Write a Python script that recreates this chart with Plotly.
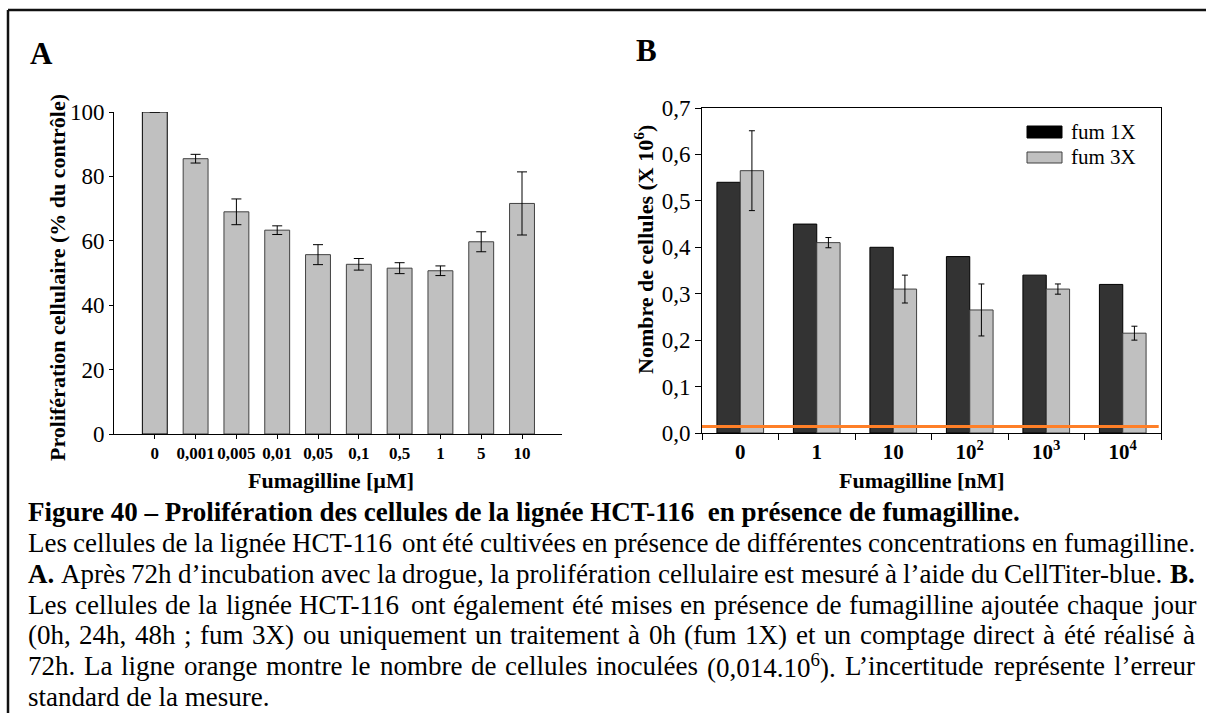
import re
import plotly.graph_objects as go
from plotly.subplots import make_subplots

W, H = 1206, 713
SERIF = "Liberation Serif"

# panel A : proliferation (% du controle)
doses_a = ["0", "0,001", "0,005", "0,01", "0,05", "0,1", "0,5", "1", "5", "10"]
prolif = [100, 85.5, 69.0, 63.3, 55.7, 52.7, 51.5, 50.7, 59.7, 71.6]
prolif_err = [0, 1.35, 4.0, 1.35, 3.1, 1.8, 1.7, 1.5, 3.1, 9.8]

# panel B : nombre de cellules (x 10^6)
doses_b = ["0", "1", "10", "10<sup>2</sup>", "10<sup>3</sup>", "10<sup>4</sup>"]
fum1x = [0.54, 0.45, 0.40, 0.38, 0.34, 0.32]
fum3x = [0.565, 0.41, 0.31, 0.265, 0.31, 0.215]
fum3x_err = [0.086, 0.011, 0.03, 0.056, 0.011, 0.015]
inoculum = 0.014

caption_title = "Figure 40 – Prolifération des cellules de la lignée HCT-116  en présence de fumagilline."
caption_lines = [
    "Les cellules de la lignée HCT-116 ont été cultivées en présence de différentes concentrations en fumagilline.",
    "<b>A.</b> Après 72h d’incubation avec la drogue, la prolifération cellulaire est mesuré à l’aide du CellTiter-blue. <b>B.</b>",
    "Les cellules de la lignée HCT-116 ont également été mises en présence de fumagilline ajoutée chaque jour",
    "(0h, 24h, 48h ; fum 3X) ou uniquement un traitement à 0h (fum 1X) et un comptage direct à été réalisé à",
    "72h. La ligne orange montre le nombre de cellules inoculées (0,014.10<sup>6</sup>). L’incertitude représente l’erreur",
    "standard de la mesure.",
]

# Times / Liberation Serif advance widths (1/1000 em), used to justify the caption
GLYPH_W = {
    " ": 250, "(": 333, ")": 333, ",": 250, ".": 250, ";": 278, "-": 333, "’": 333,
    "A": 722, "B": 667, "C": 667, "H": 722, "L": 611, "T": 611, "X": 722,
    "a": 444, "b": 500, "c": 444, "d": 500, "e": 444, "f": 333, "g": 500, "h": 500,
    "i": 278, "j": 278, "l": 278, "m": 778, "n": 500, "o": 500, "p": 500, "q": 500,
    "r": 333, "s": 389, "t": 278, "u": 500, "v": 500, "x": 500, "y": 500,
    "é": 444, "è": 444, "à": 444, "ô": 500,
}


def word_width(word, size):
    total = 0
    for part in re.split(r"(<sup>.*?</sup>)", word):
        if part.startswith("<sup>"):
            total += 0.7 * sum(GLYPH_W.get(c, 500) for c in part[5:-6])
        else:
            total += sum(GLYPH_W.get(c, 500) for c in re.sub(r"</?b>", "", part))
    return total * size / 1000


def px(x):
    return x / W


def py(y):
    return 1 - y / H


fig = make_subplots(rows=1, cols=2)

fig.add_trace(go.Bar(
    x=doses_a, y=prolif,
    marker=dict(color="#c0c0c0", line=dict(color=["#000000"] + ["#404040"] * 9, width=1)),
    error_y=dict(type="data", array=prolif_err, color="black", thickness=1, width=5),
    showlegend=False,
), row=1, col=1)

fig.add_trace(go.Bar(
    x=doses_b, y=fum1x, name="fum 1X",
    marker=dict(color="#333333", line=dict(color="#000000", width=1)),
    showlegend=False,
), row=1, col=2)
fig.add_trace(go.Bar(
    x=doses_b, y=fum3x, name="fum 3X",
    marker=dict(color="#c0c0c0", line=dict(color="#404040", width=1)),
    error_y=dict(type="data", array=fum3x_err, color="black", thickness=1, width=3),
    showlegend=False,
), row=1, col=2)

tick_font = dict(family=SERIF, size=23, color="black")

fig.update_xaxes(
    type="category", domain=[px(114), px(562)], range=[-1, 9.98],
    showline=True, linecolor="black", linewidth=1, tickangle=0,
    ticks="outside", ticklen=4, tickcolor="black",
    tickfont=dict(family=SERIF, size=17, color="black", weight="bold"),
    showgrid=False, zeroline=False, automargin=False, row=1, col=1,
)
fig.update_yaxes(
    domain=[py(434), py(112)], range=[0, 100], tickvals=[0, 20, 40, 60, 80, 100],
    showline=True, linecolor="black", linewidth=1,
    ticks="outside", ticklen=4, tickcolor="black", tickfont=tick_font,
    showgrid=False, zeroline=False, automargin=False, row=1, col=1,
)
fig.update_xaxes(
    type="category", domain=[px(702), px(1161)], range=[-0.5, 5.5],
    showline=True, mirror=True, linecolor="black", linewidth=1, tickangle=0,
    ticks="outside", tickson="boundaries", ticklen=6, tickcolor="black",
    tickfont=dict(family=SERIF, size=21, color="black", weight="bold"),
    showgrid=False, zeroline=False, automargin=False, row=1, col=2,
)
fig.update_yaxes(
    domain=[py(433), py(108)], range=[0, 0.7], dtick=0.1, tickformat=".1f",
    showline=True, mirror=True, linecolor="black", linewidth=1,
    ticks="outside", ticklen=6, tickcolor="black", tickfont=tick_font,
    showgrid=False, zeroline=False, automargin=False, row=1, col=2,
)

# orange line: inoculated cells
fig.add_shape(type="line", xref="x2 domain", yref="y2", x0=0, x1=0.995, y0=inoculum, y1=inoculum,
              line=dict(color="#ff7f27", width=3))

shapes = [
    # frame
    dict(type="line", xref="paper", yref="paper", x0=px(8), x1=1, y0=py(10), y1=py(10),
         line=dict(color="#111111", width=2.5)),
    dict(type="line", xref="paper", yref="paper", x0=px(8), x1=px(8), y0=py(10), y1=0,
         line=dict(color="#111111", width=2.5)),
    # legend swatches
    dict(type="rect", xref="paper", yref="paper", x0=px(1027), x1=px(1062), y0=py(138), y1=py(126),
         fillcolor="#000000", line=dict(color="#000000", width=1)),
    dict(type="rect", xref="paper", yref="paper", x0=px(1027), x1=px(1062), y0=py(163), y1=py(152),
         fillcolor="#c0c0c0", line=dict(color="#404040", width=1)),
]
for s in shapes:
    fig.add_shape(**s)


def note(text, x, y, size, bold=False, xanchor="center", angle=0):
    fig.add_annotation(
        text=f"<b>{text}</b>" if bold else text,
        x=px(x), y=py(y), xref="paper", yref="paper",
        xanchor=xanchor, yanchor="middle", showarrow=False, textangle=angle,
        borderpad=0, borderwidth=0,
        font=dict(family=SERIF, size=size, color="black"),
    )


note("A", 41, 53, 31, bold=True)
note("B", 646, 51, 31, bold=True)
note("Prolifération cellulaire (% du contrôle)", 58, 278, 22, bold=True, angle=-90)
note("Nombre de cellules (X 10<sup>6</sup>)", 644, 250, 22, bold=True, angle=-90)
note("Fumagilline [µM]", 331, 480, 22, bold=True)
note("Fumagilline [nM]", 922, 480, 22, bold=True)
note("fum 1X", 1071, 132, 21, xanchor="left")
note("fum 3X", 1071, 157, 21, xanchor="left")

# caption, justified between x=28 and x=1195 except the last line
CAP_SIZE, CAP_LEFT, CAP_RIGHT = 27, 28, 1195
note(caption_title, CAP_LEFT, 512, CAP_SIZE, bold=True, xanchor="left")
for i, line in enumerate(caption_lines):
    y = 543 + i * 30.8
    if i == len(caption_lines) - 1:
        note(line, CAP_LEFT, y, CAP_SIZE, xanchor="left")
        continue
    words = line.split(" ")
    widths = [word_width(w, CAP_SIZE) for w in words]
    gap = (CAP_RIGHT - CAP_LEFT - sum(widths)) / (len(words) - 1)
    x = CAP_LEFT
    for w, wd in zip(words, widths):
        note(w, x, y, CAP_SIZE, xanchor="left")
        x += wd + gap

fig.update_layout(
    width=W, height=H,
    margin=dict(l=0, r=0, t=0, b=0),
    paper_bgcolor="white", plot_bgcolor="white",
    barmode="group", bargap=0.39, bargroupgap=0, separators=", ",
    font=dict(family=SERIF, color="black"),
    hovermode=False,
)

fig.write_html("out.html", config={"displayModeBar": False},
               post_script="document.body.style.margin='0';")
